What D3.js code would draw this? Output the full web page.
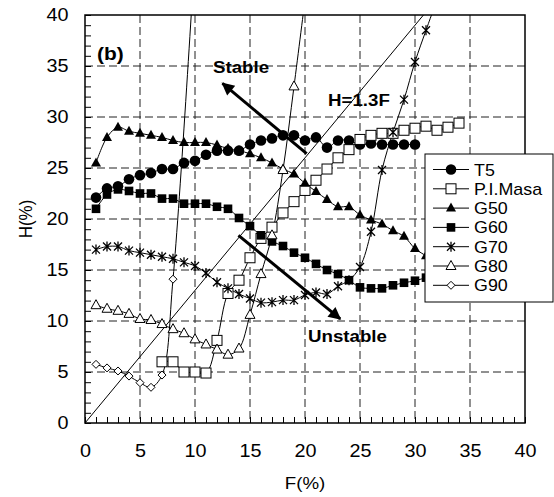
<!DOCTYPE html>
<html>
<head>
<meta charset="utf-8">
<script src="https://cdn.jsdelivr.net/npm/d3@7"></script>
<style>
  body { margin: 0; background: #fff; }
  text { font-family: "Liberation Sans", Arial, sans-serif; fill: #000; }
</style>
</head>
<body>
<div id="chart"></div>
<script>
// ---- data ----
var xTicks = [0, 5, 10, 15, 20, 25, 30, 35, 40];
var yTicks = [0, 5, 10, 15, 20, 25, 30, 35, 40];

var fT5 = [1,2,3,4,5,6,7,8,9,10,11,12,13,14,15,16,17,18,19,20,21,22,23,24,25,26,27,28,29,30];
var hT5 = [22.1,23.0,23.2,23.9,24.3,24.5,24.9,24.9,25.5,25.7,26.3,26.7,26.7,26.7,27.3,27.7,27.9,28.2,28.2,27.7,28.0,27.0,27.7,27.7,27.3,27.4,27.3,27.3,27.3,27.3];

var fMasa = [7,8,9,10,11,12,13,14,15,16,17,18,19,20,21,22,23,24,25,26,27,28,29,30,31,32,33,34];
var hMasa = [6.0,6.0,5.0,5.0,4.9,8.1,12.7,14.0,16.2,18.1,19.2,20.6,21.7,22.8,23.8,24.9,26.0,26.8,27.8,28.2,28.4,28.4,28.7,28.9,29.1,28.7,29.0,29.4];

var fG50 = [1,2,3,4,5,6,7,8,9,10,11,12,13,14,15,16,17,18,19,20,21,22,23,24,25,26,27,28,29,30,31];
var hG50 = [25.5,28.0,29.0,28.6,28.4,28.2,28.0,27.7,27.5,27.5,27.5,27.25,26.9,26.7,26.4,26.0,25.5,24.9,24.4,23.5,22.7,21.9,21.2,21.2,20.4,19.9,19.5,18.85,18.3,17.1,16.4];

var fG60 = [1,2,3,4,5,6,7,8,9,10,11,12,13,14,15,16,17,18,19,20,21,22,23,24,25,26,27,28,29,30,31];
var hG60 = [21.0,22.4,22.9,22.75,22.5,22.5,22.0,22.0,21.5,21.5,21.5,21.2,21.0,20.1,19.3,18.4,17.8,17.35,16.7,16.2,15.6,15.0,14.6,14.0,13.3,13.2,13.2,13.5,13.75,13.95,14.25];

var fG70 = [1,2,3,4,5,6,7,8,9,10,11,12,13,14,15,16,17,18,19,20,21,22,23,24,25,26,27,28,29,30,31,32];
var hG70 = [17.0,17.3,17.3,16.9,16.7,16.5,16.3,16.1,15.75,15.4,14.7,13.8,13.2,12.65,12.2,11.8,11.85,12.05,12.05,12.55,12.8,12.65,13.4,14.0,15.3,18.75,24.8,28.5,31.7,35.4,38.5,41.5];

var fG80 = [1,2,3,4,5,6,7,8,9,10,11,12,13,14,15,16,17,18,19,20];
var hG80 = [11.55,11.2,11.0,10.7,10.2,10.1,9.7,9.2,8.8,8.2,7.7,7.2,6.7,7.3,10.6,14.6,18.4,24.8,33.0,41.5];

var fG90 = [1,2,3,4,5,6,7,8,10];
var hG90 = [5.75,5.4,5.1,4.6,3.95,3.5,4.7,14.1,46];

var seriesNames = ["T5", "P.I.Masa", "G50", "G60", "G70", "G80", "G90"];
var markerTypes = ["circle", "squareOpen", "triangle", "square", "star", "triangleOpen", "diamondOpen"];

// reference line H = 1.3F
var refF = [0, 40];
var refH = refF.map(function (f) { return 1.3 * f; });

// annotations [F, H]
var stableFrom = [20.15, 26.4], stableTo = [12.5, 33.3];
var unstableFrom = [13.95, 18.4], unstableTo = [23.2, 10.2];

// ---- layout ----
var W = 554, H = 497;
var margin = { left: 85, top: 15 };
var pw = 440, ph = 408;
var stretch = 1.1;

var svg = d3.select("#chart").append("svg").attr("width", W).attr("height", H);
svg.append("rect").attr("width", W).attr("height", H).attr("fill", "white");

var x = d3.scaleLinear().domain([0, 40]).range([0, pw]);
var y = d3.scaleLinear().domain([0, 40]).range([ph, 0]);

var g = svg.append("g").attr("transform", "translate(" + margin.left + "," + margin.top + ")");

g.append("clipPath").attr("id", "clip").append("rect").attr("width", pw).attr("height", ph);

// dashed grid
g.append("g").selectAll("line.gx").data(xTicks.slice(1, -1)).enter().append("line")
  .attr("x1", function (d) { return x(d); }).attr("x2", function (d) { return x(d); })
  .attr("y1", 0).attr("y2", ph)
  .attr("stroke", "#222").attr("stroke-width", 1).attr("stroke-dasharray", "8,4");
g.append("g").selectAll("line.gy").data(yTicks.slice(1, -1)).enter().append("line")
  .attr("x1", 0).attr("x2", pw)
  .attr("y1", function (d) { return y(d); }).attr("y2", function (d) { return y(d); })
  .attr("stroke", "#222").attr("stroke-width", 1).attr("stroke-dasharray", "8,4");

// minor ticks pointing inwards
var xMinor = g.append("g").attr("transform", "translate(0," + ph + ")")
  .call(d3.axisBottom(x).ticks(40).tickSize(-6).tickFormat(""));
var yMinor = g.append("g")
  .call(d3.axisLeft(y).ticks(40).tickSize(-6).tickFormat(""));
[xMinor, yMinor].forEach(function (a) {
  a.select(".domain").remove();
  a.selectAll("line").attr("stroke", "#000").attr("stroke-width", 1);
});

// tick labels
var xAx = g.append("g").attr("transform", "translate(0," + ph + ")")
  .call(d3.axisBottom(x).tickValues(xTicks).tickSize(0).tickPadding(21));
var yAx = g.append("g")
  .call(d3.axisLeft(y).tickValues(yTicks).tickSize(0).tickPadding(15));
[xAx, yAx].forEach(function (a) {
  a.select(".domain").remove();
  a.selectAll("text").attr("font-size", 18)
    .attr("font-family", "'Liberation Sans', Arial, sans-serif")
    .attr("fill", "#000")
    .attr("transform", "scale(" + stretch + ",1)");
});

// reference line
var line = d3.line()
  .x(function (d) { return x(d[0]); })
  .y(function (d) { return y(d[1]); });
var smooth = d3.line()
  .x(function (d) { return x(d[0]); })
  .y(function (d) { return y(d[1]); })
  .curve(d3.curveCatmullRom.alpha(0.5));

var plot = g.append("g").attr("clip-path", "url(#clip)");

plot.append("path").datum(d3.zip(refF, refH))
  .attr("d", line).attr("fill", "none").attr("stroke", "#000").attr("stroke-width", 1);

var allSeries = [
  d3.zip(fT5, hT5), d3.zip(fMasa, hMasa), d3.zip(fG50, hG50), d3.zip(fG60, hG60),
  d3.zip(fG70, hG70), d3.zip(fG80, hG80), d3.zip(fG90, hG90)
];

function drawMarker(sel, type) {
  if (type === "circle") {
    sel.append("circle").attr("r", 5.3).attr("fill", "#000");
  } else if (type === "squareOpen") {
    sel.append("rect").attr("x", -5).attr("y", -5).attr("width", 10).attr("height", 10)
      .attr("fill", "#fff").attr("stroke", "#000").attr("stroke-width", 1);
  } else if (type === "square") {
    sel.append("rect").attr("x", -4.3).attr("y", -4.3).attr("width", 8.6).attr("height", 8.6)
      .attr("fill", "#000");
  } else if (type === "triangle") {
    sel.append("path").attr("d", "M0,-5.5L5,3.5L-5,3.5Z").attr("fill", "#000");
  } else if (type === "triangleOpen") {
    sel.append("path").attr("d", "M0,-5.5L5,3.5L-5,3.5Z")
      .attr("fill", "#fff").attr("stroke", "#000").attr("stroke-width", 1);
  } else if (type === "diamondOpen") {
    sel.append("path").attr("d", "M0,-4L4,0L0,4L-4,0Z")
      .attr("fill", "#fff").attr("stroke", "#000").attr("stroke-width", 1);
  } else if (type === "star") {
    sel.append("path").attr("d", "M-4,-4L4,4M-4,4L4,-4M0,-5L0,5")
      .attr("fill", "none").attr("stroke", "#000").attr("stroke-width", 1.3);
  }
}

allSeries.forEach(function (pts, i) {
  plot.append("path").datum(pts)
    .attr("d", smooth).attr("fill", "none").attr("stroke", "#000").attr("stroke-width", 1);
});
allSeries.forEach(function (pts, i) {
  var inside = pts.filter(function (p) { return p[1] <= 40; });
  plot.selectAll("g.m" + i).data(inside).enter().append("g")
    .attr("transform", function (d) { return "translate(" + x(d[0]) + "," + y(d[1]) + ")"; })
    .each(function () { drawMarker(d3.select(this), markerTypes[i]); });
});

// frame
g.append("rect").attr("width", pw).attr("height", ph)
  .attr("fill", "none").attr("stroke", "#000").attr("stroke-width", 1.5);

// arrows
var defs = svg.append("defs");
defs.append("marker").attr("id", "ah").attr("viewBox", "0 0 10 10")
  .attr("refX", 9).attr("refY", 5).attr("markerWidth", 5).attr("markerHeight", 4.2)
  .attr("orient", "auto").attr("markerUnits", "strokeWidth")
  .append("path").attr("d", "M0,0L10,5L0,10Z").attr("fill", "#000");

[[stableFrom, stableTo], [unstableFrom, unstableTo]].forEach(function (a) {
  g.append("line")
    .attr("x1", x(a[0][0])).attr("y1", y(a[0][1]))
    .attr("x2", x(a[1][0])).attr("y2", y(a[1][1]))
    .attr("stroke", "#000").attr("stroke-width", 3).attr("marker-end", "url(#ah)");
});

// labels
function label(txt, px, py, size, bold, anchor) {
  svg.append("text")
    .attr("transform", "translate(" + px + "," + py + ") scale(" + stretch + ",1)")
    .attr("font-size", size).attr("font-weight", bold ? "bold" : "normal")
    .attr("text-anchor", anchor || "start")
    .text(txt);
}
label("(b)", 97, 60, 19, true);
label("Stable", 213, 73, 17, true);
label("H=1.3F", 328, 106, 17, true);
label("Unstable", 308, 342, 17, true);
label("F(%)", 305, 489, 17, false, "middle");

svg.append("text")
  .attr("transform", "translate(32," + (margin.top + ph / 2) + ") rotate(-90) scale(1," + stretch + ")")
  .attr("font-size", 17).attr("text-anchor", "middle").text("H(%)");

// legend
var lg = svg.append("g").attr("transform", "translate(425,154)");
lg.append("rect").attr("width", 128).attr("height", 148)
  .attr("fill", "#fff").attr("stroke", "#000").attr("stroke-width", 1);
seriesNames.forEach(function (name, i) {
  var row = lg.append("g").attr("transform", "translate(0," + (15.5 + i * 19.3) + ")");
  row.append("line").attr("x1", 8).attr("x2", 44).attr("stroke", "#000").attr("stroke-width", 1);
  drawMarker(row.append("g").attr("transform", "translate(26,0)"), markerTypes[i]);
  row.append("text").attr("transform", "translate(49,6) scale(1.05,1)")
    .attr("font-size", 17).text(name);
});
</script>
</body>
</html>
